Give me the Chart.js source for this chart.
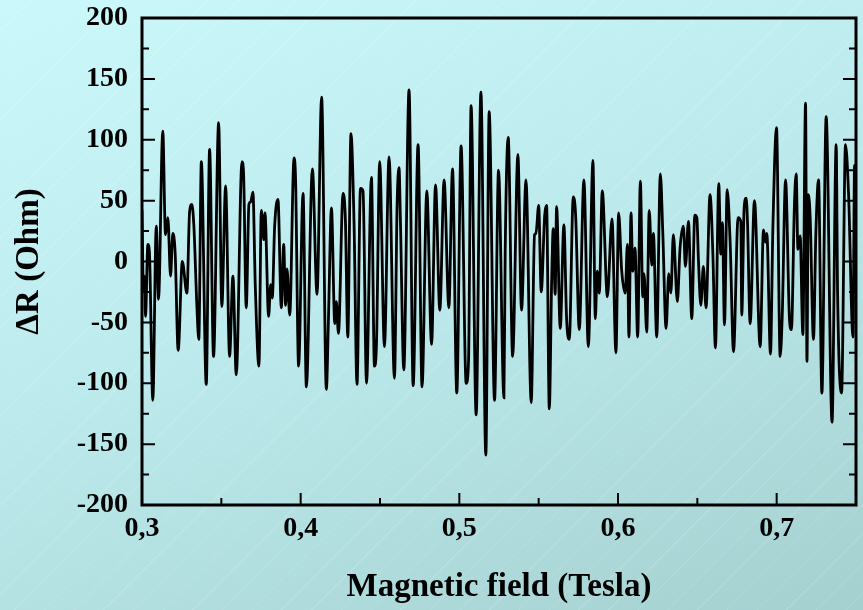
<!DOCTYPE html>
<html>
<head>
<meta charset="utf-8">
<script src="https://cdn.jsdelivr.net/npm/chart.js@4.4.1/dist/chart.umd.min.js"></script>
<style>
  html, body { margin: 0; padding: 0; }
  body {
    width: 863px; height: 610px; overflow: hidden;
    background:
      repeating-linear-gradient(135deg, rgba(255,255,255,0.13) 0 1px, rgba(255,255,255,0) 1px 21px),
      linear-gradient(160deg, #cbf8fa 0%, #bdebed 45%, #a5d0d0 100%);
  }
  #wrap { position: relative; width: 863px; height: 610px; }
</style>
</head>
<body>
<div id="wrap"><canvas id="sdh" width="863" height="610"></canvas></div>
<script>
// magnetic field (T) and resistance oscillation (Ohm)
const fieldT = [
  0.3000, 0.3009, 0.3015, 0.3022, 0.3037, 0.3047, 0.3068, 0.3090, 0.3104, 0.3131,
  0.3148, 0.3163, 0.3180, 0.3194, 0.3209, 0.3228, 0.3254, 0.3283, 0.3300, 0.3314,
  0.3327, 0.3346, 0.3358, 0.3374, 0.3405, 0.3426, 0.3451, 0.3483, 0.3503, 0.3527,
  0.3552, 0.3573, 0.3594, 0.3630, 0.3640, 0.3657, 0.3674, 0.3685, 0.3699, 0.3714,
  0.3737,
  0.3752, 0.3768, 0.3775, 0.3798, 0.3811, 0.3821, 0.3836, 0.3857, 0.3878, 0.3893,
  0.3905, 0.3914, 0.3931, 0.3958, 0.3968, 0.3987, 0.4015, 0.4036, 0.4074, 0.4103,
  0.4132, 0.4162, 0.4175, 0.4194, 0.4215, 0.4225, 0.4238, 0.4267, 0.4282, 0.4297,
  0.4317, 0.4336, 0.4355, 0.4377, 0.4393, 0.4415, 0.4446, 0.4465, 0.4478, 0.4498,
  0.4528, 0.4557, 0.4591, 0.4608, 0.4620, 0.4629, 0.4650, 0.4683, 0.4709, 0.4740,
  0.4765, 0.4795, 0.4825, 0.4850, 0.4877, 0.4904, 0.4934, 0.4957, 0.4984, 0.5011,
  0.5043, 0.5058, 0.5074, 0.5106, 0.5136, 0.5167, 0.5188, 0.5222, 0.5247,
  0.5281, 0.5289, 0.5308, 0.5336, 0.5369, 0.5392, 0.5420, 0.5453, 0.5474, 0.5483,
  0.5500, 0.5516, 0.5538, 0.5550, 0.5567, 0.5582, 0.5592, 0.5604, 0.5613, 0.5636,
  0.5659, 0.5676, 0.5693, 0.5718, 0.5733, 0.5756, 0.5785, 0.5813, 0.5842, 0.5857,
  0.5869, 0.5882, 0.5901, 0.5933, 0.5962, 0.5987, 0.6004,
  0.6023, 0.6046, 0.6059, 0.6069, 0.6082, 0.6093, 0.6107, 0.6124, 0.6141, 0.6156,
  0.6164, 0.6181, 0.6197, 0.6213, 0.6223, 0.6244, 0.6267, 0.6282, 0.6303, 0.6320,
  0.6333, 0.6349, 0.6374, 0.6391, 0.6412, 0.6425, 0.6444, 0.6465, 0.6484, 0.6497,
  0.6507, 0.6522, 0.6538, 0.6555, 0.6580, 0.6598, 0.6614, 0.6635, 0.6648, 0.6658,
  0.6671, 0.6688, 0.6707, 0.6728, 0.6757, 0.6774,
  0.6780, 0.6795, 0.6808, 0.6816, 0.6833, 0.6860, 0.6896, 0.6917, 0.6929, 0.6938,
  0.6961, 0.6976, 0.6999, 0.7022, 0.7035, 0.7056, 0.7081, 0.7093, 0.7112, 0.7123,
  0.7134, 0.7148, 0.7165, 0.7182, 0.7191, 0.7199, 0.7211, 0.7232, 0.7247, 0.7264,
  0.7285, 0.7312, 0.7349, 0.7375, 0.7384, 0.7409, 0.7434, 0.7453, 0.7481, 0.7491,
  0.7500
];
const deltaR = [
  42, -23, -12, -45, 14, 7, -114, 29, -31, 107,
  22, 36, -12, 23, 7, -73, 0, -26, 41, 47,
  29, -37, -64, 82, -101, 92, -78, 114, -37, 62,
  -78, -12, -93, 82, 73, -38, 47, 49, 57, -20,
  -86,
  42, 18, 40, -45, -19, -30, 29, 51, -38, 14,
  -36, -6, -44, 85, 67, -86, 56, -103, 76, -27,
  135, -105, -48, 44, -51, -33, -59, 56, 34, -62,
  105, 34, -101, 60, 58, -100, 69, -86, -67, 82,
  -70, 86, -96, 48, 77, 32, -89, 141, -102, 96,
  -103, 58, -68, 63, -40, 67, -38, 76, -108, 95,
  -100, -82, 128, -126, 139, -159, 123, -114, 75,
  -112, 7, 102, -78, 88, -40, 67, -116, 22, 23,
  46, -25, 38, 46, -121, -15, 27, -27, 45, -55,
  30, -47, -64, 53, 38, -56, 67, -70, 83, -47,
  -8, -26, 58, -29, 35, -75, 40,
  -7, -26, 14, -62, 40, -8, 11, -62, 66, -29,
  -10, -58, 42, -3, 23, -62, 72, 25, -55, -10,
  -26, 22, -33, 11, 29, -4, 33, -47, 38, 36,
  1, -36, -4, -38, 55, 6, -71, 64, 6, 32,
  -52, 59, 15, -74, 36, 33,
  -44, 44, 52, 33, -51, 50, -70, 26, 16, 23,
  -76, 27, 110, -78, -45, 67, -48, -56, 47, 72,
  10, 21, -60, 130, -82, 55, 37, -64, 23, 67,
  -108, 119, -132, 96, -26, -108, 96, 56, -62, 79,
  18
];

// axis ranges and labelled ticks
const xMin = 0.3, xMax = 0.75, xStep = 0.05;
const xLabels = ['0,3', '0,4', '0,5', '0,6', '0,7'];
const yMin = -200, yMax = 200, yStep = 25;
const yLabels = [-200, -150, -100, -50, 0, 50, 100, 150, 200];

const points = fieldT.map((b, i) => ({ x: b, y: deltaR[i] }));
const serif = "'Liberation Serif', 'Times New Roman', serif";

// frame + inward ticks (major/minor), like the Origin plot
const frameTicks = {
  id: 'frameTicks',
  afterDatasetsDraw(chart) {
    const { ctx, chartArea: a, scales: { x, y } } = chart;
    ctx.save();
    ctx.strokeStyle = '#000';
    ctx.lineWidth = 2;
    ctx.beginPath();
    y.ticks.forEach(t => {
      const py = y.getPixelForValue(t.value);
      const len = yLabels.includes(t.value) ? 13 : 7;
      ctx.moveTo(a.left, py); ctx.lineTo(a.left + len, py);
      ctx.moveTo(a.right, py); ctx.lineTo(a.right - len, py);
    });
    x.ticks.forEach(t => {
      const px = x.getPixelForValue(t.value);
      const major = Math.abs(t.value * 10 - Math.round(t.value * 10)) < 1e-6;
      const len = major ? 12 : 7;
      ctx.moveTo(px, a.bottom); ctx.lineTo(px, a.bottom - len);
    });
    ctx.stroke();
    ctx.lineWidth = 3;
    ctx.strokeRect(a.left, a.top, a.right - a.left, a.bottom - a.top);
    ctx.restore();
  }
};

new Chart(document.getElementById('sdh'), {
  type: 'line',
  data: {
    datasets: [{
      data: points,
      borderColor: '#000',
      borderWidth: 2.8,
      pointRadius: 0,
      cubicInterpolationMode: 'monotone',
      fill: false
    }]
  },
  options: {
    responsive: false,
    animation: false,
    layout: { padding: { top: 18, right: 7, left: 0, bottom: 0 } },
    plugins: { legend: { display: false }, tooltip: { enabled: false } },
    scales: {
      x: {
        type: 'linear',
        min: xMin, max: xMax,
        grid: { display: false, drawTicks: false },
        border: { display: false },
        afterFit: s => { s.height = 105; s.paddingLeft = 0; s.paddingRight = 0; },
        ticks: {
          stepSize: xStep,
          autoSkip: false,
          maxRotation: 0,
          padding: 7,
          color: '#000',
          font: { family: serif, size: 28, weight: 'bold' },
          callback: v => {
            const i = Math.round((v - xMin) * 10);
            return Math.abs(v * 10 - Math.round(v * 10)) < 1e-6 ? xLabels[i] : '';
          }
        },
        title: {
          display: true,
          text: 'Magnetic field (Tesla)',
          color: '#000',
          font: { family: serif, size: 33, weight: 'bold' },
          padding: { top: 0, bottom: 3 }
        }
      },
      y: {
        min: yMin, max: yMax,
        grid: { display: false, drawTicks: false },
        border: { display: false },
        afterFit: s => { s.width = 142; s.paddingTop = 0; s.paddingBottom = 0; },
        ticks: {
          stepSize: yStep,
          autoSkip: false,
          padding: 14,
          color: '#000',
          font: { family: serif, size: 28, weight: 'bold' },
          callback: v => yLabels.includes(v) ? String(v) : ''
        },
        title: {
          display: true,
          text: 'ΔR (Ohm)',
          color: '#000',
          font: { family: serif, size: 33, weight: 'bold' },
          padding: { top: 10, bottom: 0 }
        }
      }
    }
  },
  plugins: [frameTicks]
});
</script>
</body>
</html>
